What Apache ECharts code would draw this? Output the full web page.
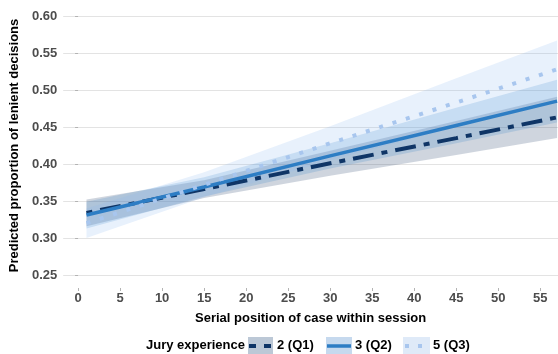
<!DOCTYPE html>
<html><head><meta charset="utf-8">
<script src="https://cdn.jsdelivr.net/npm/echarts@6/dist/echarts.min.js"></script>
<style>html,body{margin:0;padding:0;background:#fff}#c{width:558px;height:354px}</style>
</head><body><div id="c"></div>
<script>
// Serial position positions where values were read
const xPos = [1, 15, 30, 45, 57];
// Predicted proportions (lines)
const q1Fit = [0.334, 0.366, 0.401, 0.435, 0.463];
const q2Fit = [0.331, 0.369, 0.411, 0.452, 0.485];
const q3Fit = [0.320, 0.372, 0.428, 0.483, 0.528];
// Confidence bands
const q1Lo = [0.316, 0.354, 0.384, 0.412, 0.435];
const q1Hi = [0.352, 0.378, 0.418, 0.458, 0.491];
const q2Lo = [0.313, 0.356, 0.394, 0.428, 0.456];
const q2Hi = [0.349, 0.382, 0.428, 0.476, 0.514];
const q3Lo = [0.300, 0.355, 0.405, 0.450, 0.489];
const q3Hi = [0.340, 0.389, 0.451, 0.516, 0.567];
// Axis ticks
const xTicks = [0, 5, 10, 15, 20, 25, 30, 35, 40, 45, 50, 55];
const legendNames = ['2 (Q1)', '3 (Q2)', '5 (Q3)'];
const legendTitle = 'Jury experience';
const xTitle = 'Serial position of case within session';
const yTitle = 'Predicted proportion of lenient decisions';

const F = '"Liberation Sans", Arial, sans-serif';
const lineCol = ['#0f3566', '#2d7dc4', '#a8c6ee'];
const bandCol = ['rgba(35,65,105,0.22)', 'rgba(49,130,200,0.2)', 'rgba(140,185,240,0.2)'];

function pts(ys) { return xPos.map((x, i) => [x, ys[i]]); }

const bands = [[q1Lo, q1Hi], [q2Lo, q2Hi], [q3Lo, q3Hi]];
const series = [];
bands.forEach((b, k) => {
  const data = xPos.map((x, i) => [x, b[0][i], b[1][i]]);
  series.push({
    type: 'custom', silent: true, z: 2,
    data: data,
    encode: { x: 0, y: [1, 2] },
    renderItem: function (params, api) {
      if (params.dataIndex !== 0) return null;
      const upper = data.map(d => api.coord([d[0], d[2]]));
      const lower = data.map(d => api.coord([d[0], d[1]])).reverse();
      return { type: 'polygon', shape: { points: upper.concat(lower) },
        style: { fill: bandCol[k], stroke: null } };
    }
  });
});
series.push({ name: legendNames[0], type: 'line', data: pts(q1Fit), symbol: 'none', z: 5,
  lineStyle: { color: lineCol[0], width: 4, type: [6, 8, 21, 8], cap: 'butt' } });
series.push({ name: legendNames[1], type: 'line', data: pts(q2Fit), symbol: 'none', z: 5,
  lineStyle: { color: lineCol[1], width: 3.5 } });
series.push({ name: legendNames[2], type: 'line', data: pts(q3Fit), symbol: 'none', z: 5,
  lineStyle: { color: lineCol[2], width: 4, type: [4, 10], cap: 'butt' } });

const chart = echarts.init(document.getElementById('c'), null, { renderer: 'canvas' });
const txt = { fontFamily: F, fontWeight: 'bold', fontSize: 13 };
chart.setOption({
  animation: false,
  backgroundColor: '#fff',
  grid: { left: 60, top: 16, width: 498, height: 259 },
  xAxis: {
    type: 'value', min: -1.77, max: 57.11, offset: 13,
    name: xTitle, nameLocation: 'middle', nameGap: 24,
    nameTextStyle: Object.assign({ color: '#000' }, txt),
    axisLine: { show: false },
    axisTick: { show: true, length: 3, lineStyle: { color: '#b3b3b3' }, customValues: xTicks },
    axisLabel: Object.assign({ color: '#4d4d4d', margin: 4, customValues: xTicks }, txt),
    splitLine: { show: false }
  },
  yAxis: {
    type: 'value', min: 0.25, max: 0.60, interval: 0.05,
    name: yTitle, nameLocation: 'middle', nameGap: 38,
    nameTextStyle: Object.assign({ color: '#000' }, txt),
    axisLine: { show: false },
    axisTick: { show: true, length: 3, lineStyle: { color: '#b3b3b3' } },
    axisLabel: Object.assign({ color: '#4d4d4d', margin: 6, formatter: v => v.toFixed(2) }, txt),
    splitLine: { show: true, lineStyle: { color: '#e3e3e3', width: 1 } }
  },
  series: series,
  graphic: [
    { type: 'text', left: 146, top: 339, style: { text: legendTitle, fill: '#000', font: 'bold 13px ' + F } },
    { type: 'rect', shape: { x: 248, y: 337, width: 25, height: 20 }, style: { fill: '#bcc8d6' } },
    { type: 'line', shape: { x1: 249, y1: 346, x2: 272, y2: 346 }, style: { stroke: lineCol[0], lineWidth: 4, lineDash: [7, 8] } },
    { type: 'text', left: 277, top: 339, style: { text: legendNames[0], fill: '#000', font: 'bold 13px ' + F } },
    { type: 'rect', shape: { x: 326, y: 337, width: 26, height: 20 }, style: { fill: '#c6d9ee' } },
    { type: 'line', shape: { x1: 327, y1: 346, x2: 351, y2: 346 }, style: { stroke: lineCol[1], lineWidth: 3.5 } },
    { type: 'text', left: 355, top: 339, style: { text: legendNames[1], fill: '#000', font: 'bold 13px ' + F } },
    { type: 'rect', shape: { x: 403, y: 337, width: 27, height: 20 }, style: { fill: '#dfeaf8' } },
    { type: 'line', shape: { x1: 405, y1: 346, x2: 428, y2: 346 }, style: { stroke: lineCol[2], lineWidth: 4, lineDash: [4, 9] } },
    { type: 'text', left: 433, top: 339, style: { text: legendNames[2], fill: '#000', font: 'bold 13px ' + F } }
  ]
});
</script></body></html>
